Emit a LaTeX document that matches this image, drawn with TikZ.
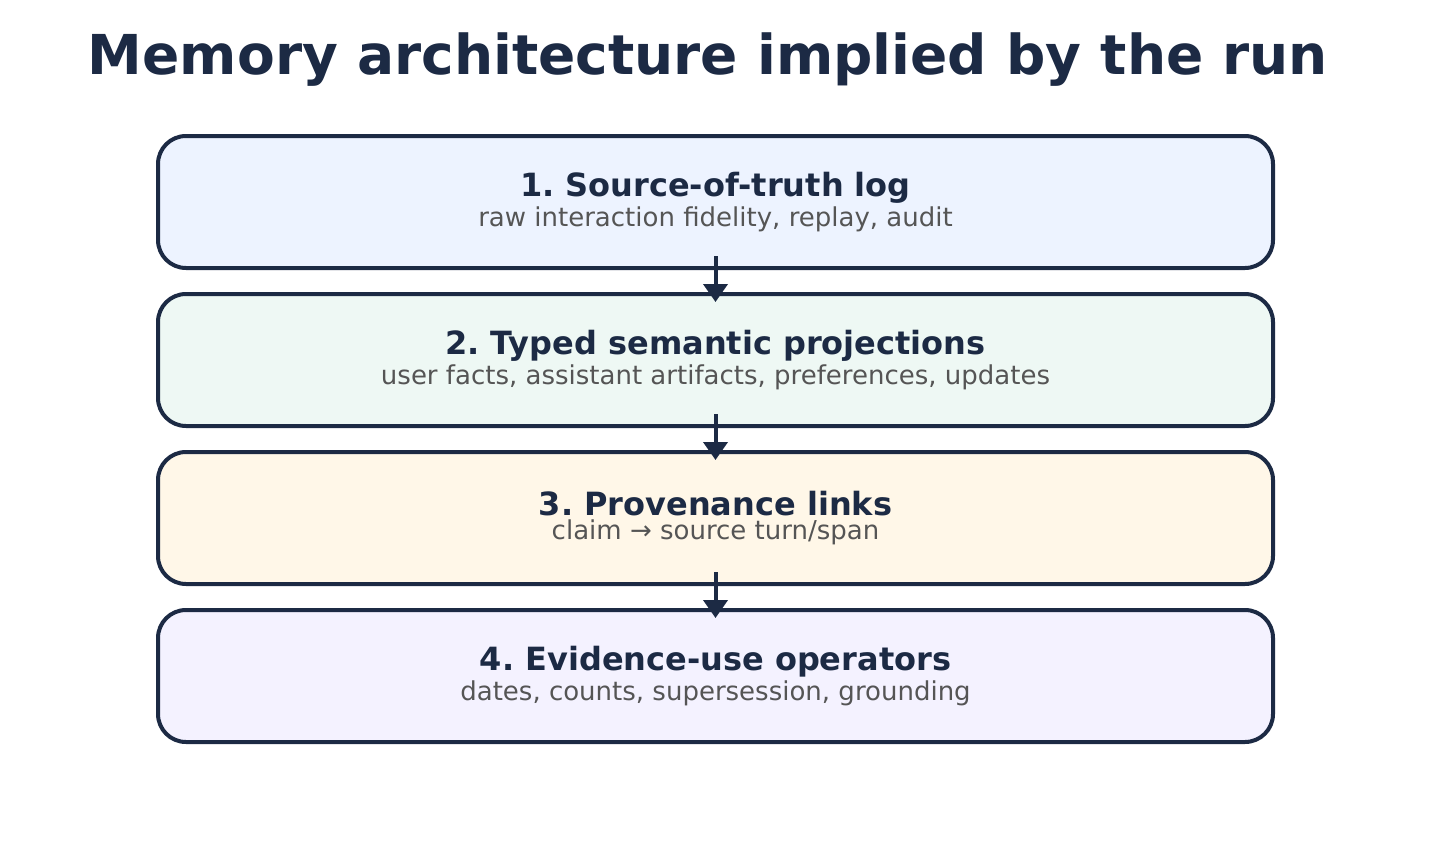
\documentclass[tikz,border=0pt]{standalone}
\usepackage{fontspec}
\setmainfont{DejaVu Sans}
\usetikzlibrary{arrows.meta}
\definecolor{ink}{HTML}{1C2A44}
\definecolor{sub}{HTML}{555555}
\definecolor{fa}{HTML}{EDF3FF}
\definecolor{fb}{HTML}{EEF8F4}
\definecolor{fc}{HTML}{FFF7E8}
\definecolor{fd}{HTML}{F4F2FF}
\frenchspacing
\begin{document}
\begin{tikzpicture}[x=1pt,y=-1pt,
 box/.style={draw=ink,line width=4pt,rounded corners=28pt,minimum width=1115pt,minimum height=132pt,inner sep=0pt,align=center},
 arr/.style={draw=ink,line width=4pt,-{Triangle[length=18pt,width=24pt]},shorten <=-14pt,shorten >=-10pt}]
\useasboundingbox (0,0) rectangle (1430,867);
\node[text=ink,font=\fontsize{55}{60}\selectfont\bfseries] (t) at (708,60) {Memory architecture implied by the run};
\newcommand{\lbl}[2]{{\color{ink}\fontsize{32}{32}\selectfont\bfseries #1}\\[3pt]{\color{sub}\fontsize{26}{32}\selectfont #2}}
\node[box,fill=fa] (a) at (715.5,202) {\lbl{1. Source-of-truth log}{raw interaction fidelity, replay, audit}};
\node[box,fill=fb] (b) at (715.5,360) {\lbl{2. Typed semantic projections}{user facts, assistant artifacts, preferences, updates}};
\node[box,fill=fc] (c) at (715.5,518) {\lbl{3. Provenance links}{claim → source turn/span}};
\node[box,fill=fd] (d) at (715.5,676) {\lbl{4. Evidence-use operators}{dates, counts, supersession, grounding}};
\draw[arr] (a) -- (b);
\draw[arr] (b) -- (c);
\draw[arr] (c) -- (d);
\end{tikzpicture}
\end{document}
